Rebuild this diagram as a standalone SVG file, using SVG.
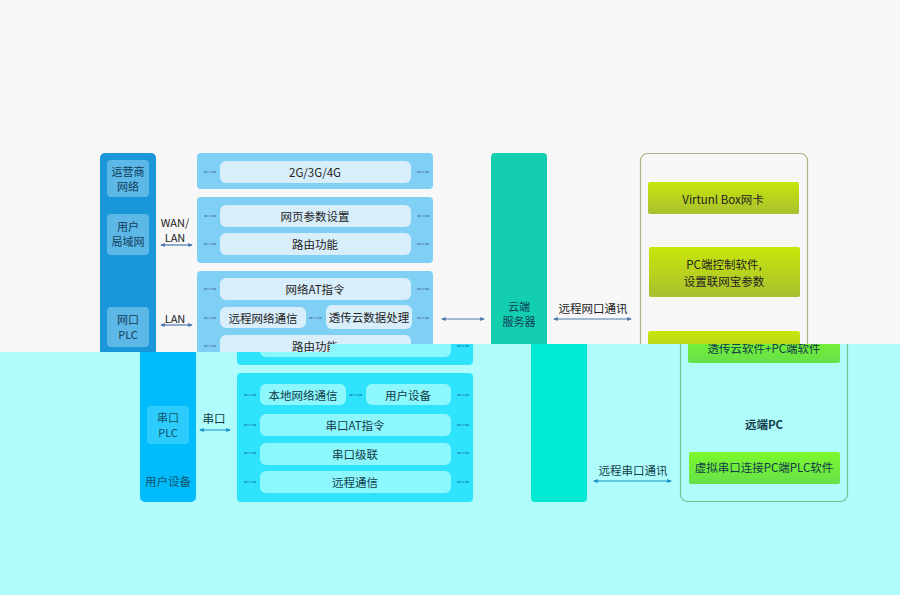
<svg xmlns="http://www.w3.org/2000/svg" width="900" height="595" viewBox="0 0 900 595">
<defs>
<style>
text{font-family:"Noto Sans CJK SC","Noto Sans",sans-serif;text-anchor:middle;dominant-baseline:central}
.t12{font-size:11.5px}.t11{font-size:11px}
.top .col{fill:#1a97d9}.top .colin{fill:#5db8e8}.top .ct{fill:#123c58}
.top .pan{fill:#7fd0f4}.top .box{fill:#d9eefb}.top .bt{fill:#222}
.top .cloud{fill:#14cfaf}.top .pc{fill:none;stroke:#b3b387;stroke-width:1.2}
.top .gb{fill:url(#gy)}.top .lk{stroke:#4d78ad;stroke-width:1.2;fill:none}
.top .sk{stroke:#5b8cc0;stroke-width:0.8;fill:none}.top .lt{fill:#222}
.bot .col{fill:#00bcfd}.bot .colin{fill:#2ccdfd}.bot .ct{fill:#10506a}
.bot .pan{fill:#2fe3fd}.bot .box{fill:#8df7fe}.bot .bt{fill:#123c48}
.bot .cloud{fill:#00e9d3}.bot .pc{fill:none;stroke:#67c98a;stroke-width:1.2}
.bot .gb{fill:url(#gg)}.bot .lk{stroke:#1591c8;stroke-width:1.2;fill:none}
.bot .sk{stroke:#1a94c4;stroke-width:0.8;fill:none}.bot .lt{fill:#123c48}
.lk,.sk{marker-start:url(#ab);marker-end:url(#ab)}
</style>
<linearGradient id="gy" x1="0" y1="0" x2="0" y2="1"><stop offset="0" stop-color="#c8e60a"/><stop offset="1" stop-color="#a9bf30"/></linearGradient>
<linearGradient id="gg" x1="0" y1="0" x2="0" y2="1"><stop offset="0" stop-color="#7cf82c"/><stop offset="1" stop-color="#66e04a"/></linearGradient>
<marker id="ab" viewBox="0 0 10 10" refX="8" refY="5" markerWidth="4" markerHeight="4" orient="auto-start-reverse"><path d="M0,1L10,5L0,9z" fill="context-stroke"/></marker>
<clipPath id="ctop"><path d="M0,0H900V344H330V352H0z"/></clipPath>
<clipPath id="cbot"><path d="M0,352H330V344H900V595H0z"/></clipPath>
</defs>

<!-- TOP HALF -->
<g class="top" clip-path="url(#ctop)">
<rect width="900" height="595" fill="#f7f7f7"/>
<g id="t-left">
<rect class="col" x="100" y="153" width="56" height="349" rx="5"/>
<rect class="colin" x="107" y="160" width="42" height="37" rx="4"/>
<text class="ct t11" x="128" y="171">运营商</text><text class="ct t11" x="128" y="186">网络</text>
<rect class="colin" x="107" y="214" width="42" height="41" rx="4"/>
<text class="ct t11" x="128" y="226">用户</text><text class="ct t11" x="128" y="241">局域网</text>
<rect class="colin" x="107" y="307" width="42" height="40" rx="4"/>
<text class="ct t11" x="128" y="319">网口</text><text class="ct t11" x="128" y="334">PLC</text>
</g>
<g id="t-p1">
<rect class="pan" x="197" y="153" width="236" height="36" rx="4"/>
<rect class="box" x="220" y="161" width="191" height="22" rx="6"/>
<text class="bt t12" x="315" y="172">2G/3G/4G</text>
</g>
<g id="t-p2">
<rect class="pan" x="197" y="197" width="236" height="66" rx="4"/>
<rect class="box" x="220" y="205" width="191" height="22" rx="6"/>
<text class="bt t12" x="315" y="216">网页参数设置</text>
<rect class="box" x="220" y="233" width="191" height="22" rx="6"/>
<text class="bt t12" x="315" y="244">路由功能</text>
</g>
<g id="t-p3">
<rect class="pan" x="197" y="271" width="236" height="94" rx="4"/>
<rect class="box" x="220" y="278" width="191" height="22" rx="6"/>
<text class="bt t12" x="315" y="289">网络AT指令</text>
<rect class="box" x="220" y="307" width="86" height="21" rx="6"/>
<text class="bt t12" x="263" y="318">远程网络通信</text>
<rect class="box" x="326" y="305" width="86" height="24" rx="6"/>
<text class="bt t12" x="369" y="317">透传云数据处理</text>
<rect class="box" x="220" y="335" width="191" height="22" rx="6"/>
<text class="bt t12" x="315" y="346">路由功能</text>
</g>
<g id="t-cloud">
<rect class="cloud" x="491" y="153" width="56" height="349" rx="4"/>
<text class="ct t11" x="519" y="306">云端</text><text class="ct t11" x="519" y="321">服务器</text>
</g>
<g id="t-pc">
<rect class="pc" x="640.5" y="153.5" width="167" height="349" rx="7"/>
<rect class="gb" x="648" y="182" width="151" height="32" rx="2"/>
<text class="bt t12" x="723" y="199">Virtunl Box网卡</text>
<rect class="gb" x="649" y="247" width="151" height="50" rx="2"/>
<text class="bt t12" x="724" y="264">PC端控制软件,</text><text class="bt t12" x="724" y="281">设置联网宝参数</text>
<rect class="gb" x="648" y="331" width="152" height="32" rx="2"/>
</g>
<g id="t-links">
<text class="lt t11" x="175" y="222">WAN/</text><text class="lt t11" x="175" y="237">LAN</text>
<line class="lk" x1="161" y1="245" x2="192" y2="245"/>
<text class="lt t11" x="175" y="318">LAN</text>
<line class="lk" x1="161" y1="325" x2="192" y2="325"/>
<line class="lk" x1="442" y1="319" x2="484" y2="319"/>
<text class="lt t12" x="593" y="308">远程网口通讯</text>
<line class="lk" x1="554" y1="319" x2="631" y2="319"/>
<line class="sk" x1="204" y1="172" x2="216" y2="172"/><line class="sk" x1="417" y1="172" x2="429" y2="172"/>
<line class="sk" x1="204" y1="216" x2="216" y2="216"/><line class="sk" x1="417" y1="216" x2="429" y2="216"/>
<line class="sk" x1="204" y1="244" x2="216" y2="244"/><line class="sk" x1="417" y1="244" x2="429" y2="244"/>
<line class="sk" x1="204" y1="289" x2="216" y2="289"/><line class="sk" x1="417" y1="289" x2="429" y2="289"/>
<line class="sk" x1="204" y1="318" x2="216" y2="318"/><line class="sk" x1="417" y1="318" x2="429" y2="318"/>
<line class="sk" x1="309" y1="318" x2="322" y2="318"/>
<line class="sk" x1="204" y1="346" x2="216" y2="346"/><line class="sk" x1="417" y1="346" x2="429" y2="346"/>
</g>
</g>

<!-- BOTTOM HALF -->
<g class="bot" clip-path="url(#cbot)">
<rect width="900" height="595" fill="#b0fcfc"/>
<g transform="translate(40,0)">
<g id="b-left">
<rect class="col" x="100" y="153" width="56" height="349" rx="5"/>
<rect class="colin" x="107" y="406" width="42" height="38" rx="4"/>
<text class="ct t11" x="128" y="417">串口</text><text class="ct t11" x="128" y="432">PLC</text>
<text class="ct t12" x="128" y="481">用户设备</text>
</g>
<g id="b-p3">
<rect class="pan" x="197" y="271" width="236" height="94" rx="4"/>
<rect class="box" x="220" y="335" width="191" height="22" rx="6"/>
</g>
<g id="b-p4">
<rect class="pan" x="197" y="373" width="236" height="129" rx="4"/>
<rect class="box" x="220" y="384" width="86" height="21" rx="6"/>
<text class="bt t12" x="263" y="395">本地网络通信</text>
<rect class="box" x="326" y="384" width="85" height="21" rx="6"/>
<text class="bt t12" x="368" y="395">用户设备</text>
<rect class="box" x="220" y="414" width="191" height="22" rx="6"/>
<text class="bt t12" x="315" y="425">串口AT指令</text>
<rect class="box" x="220" y="443" width="191" height="22" rx="6"/>
<text class="bt t12" x="315" y="454">串口级联</text>
<rect class="box" x="220" y="471" width="191" height="22" rx="6"/>
<text class="bt t12" x="315" y="482">远程通信</text>
</g>
<g id="b-cloud">
<rect class="cloud" x="491" y="153" width="56" height="349" rx="4"/>
</g>
<g id="b-pc">
<rect class="pc" x="640.5" y="153.5" width="167" height="348" rx="7"/>
<rect class="gb" x="648" y="331" width="152" height="32" rx="2"/>
<text class="bt t12" x="724" y="348">透传云软件+PC端软件</text>
<text class="bt t12" x="724" y="424" font-weight="bold">远端PC</text>
<rect class="gb" x="649" y="452" width="151" height="32" rx="2"/>
<text class="bt t12" x="724" y="467">虚拟串口连接PC端PLC软件</text>
</g>
<g id="b-links">
<text class="lt t12" x="174" y="418">串口</text>
<line class="lk" x1="160" y1="430" x2="190" y2="430"/>
<text class="lt t12" x="593" y="470">远程串口通讯</text>
<line class="lk" x1="554" y1="481" x2="631" y2="481"/>
<line class="sk" x1="204" y1="346" x2="216" y2="346"/><line class="sk" x1="417" y1="346" x2="429" y2="346"/>
<line class="sk" x1="204" y1="395" x2="216" y2="395"/><line class="sk" x1="417" y1="395" x2="429" y2="395"/>
<line class="sk" x1="309" y1="395" x2="322" y2="395"/>
<line class="sk" x1="204" y1="425" x2="216" y2="425"/><line class="sk" x1="417" y1="425" x2="429" y2="425"/>
<line class="sk" x1="204" y1="453" x2="216" y2="453"/><line class="sk" x1="417" y1="453" x2="429" y2="453"/>
<line class="sk" x1="204" y1="482" x2="216" y2="482"/><line class="sk" x1="417" y1="482" x2="429" y2="482"/>
</g>
</g>
</g>
</svg>
